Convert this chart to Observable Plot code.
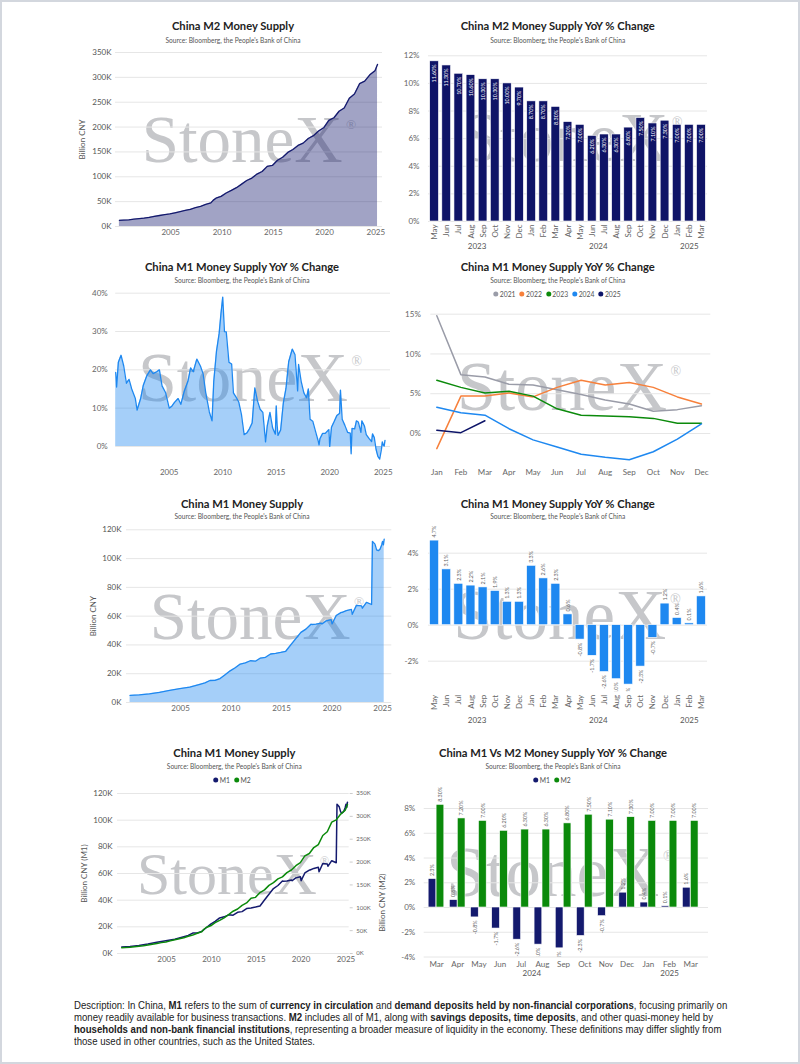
<!DOCTYPE html>
<html>
<head>
<meta charset="utf-8">
<script src="https://cdn.jsdelivr.net/npm/d3@7"></script>
<script src="https://cdn.jsdelivr.net/npm/@observablehq/plot@0.6"></script>
<style>
  body { margin: 0; background: #fff; }
  #page { position: relative; width: 800px; height: 1064px; box-sizing: border-box; border: 2px solid #d3d7de; overflow: hidden; font-family: Lato, "Open Sans", sans-serif; background: #fff; }
  .abs { position: absolute; }
  .t { font-family: Lato, "Open Sans", sans-serif; font-size: 11.2px; font-weight: 700; color: #222; white-space: nowrap; transform: translate(-50%, -50%); line-height: 1; }
  .s { font-size: 6.6px; color: #555; white-space: nowrap; transform: translate(-50%, -50%); line-height: 1; }
  .lg { font-size: 6.8px; color: #555; white-space: nowrap; transform: translate(-50%, -50%); line-height: 1; display: flex; align-items: center; gap: 4px; }
  .lg .it { display: flex; align-items: center; gap: 1.5px; }
  .lg .dot { width: 5px; height: 5px; border-radius: 50%; display: inline-block; }
  .wm { font-family: "Liberation Serif", "DejaVu Serif", serif; color: #c6c7ca; white-space: nowrap; transform: translate(-50%, -50%); line-height: 1; }
  .wm .r { font-size: 0.2em; position: relative; top: -2.45em; margin-left: 0.25em; }
  #desc { left: 72px; top: 998px; font-family: "Liberation Sans", Arial, sans-serif; font-size: 10.4px; line-height: 12px; color: #222; white-space: nowrap; transform: scaleX(0.925); transform-origin: 0 0; }
  #desc b { font-weight: 700; }
</style>
</head>
<body>
<div id="page">
  <div id="desc" class="abs">Description: In China, <b>M1</b> refers to the sum of <b>currency in circulation</b> and <b>demand deposits held by non-financial corporations</b>, focusing primarily on<br>money readily available for business transactions. <b>M2</b> includes all of M1, along with <b>savings deposits, time deposits</b>, and other quasi-money held by<br><b>households and non-bank financial institutions</b>, representing a broader measure of liquidity in the economy. These definitions may differ slightly from<br>those used in other countries, such as the United States.</div>
</div>
<script>
// ---------------- DATA ----------------
const yearTicks = [2005, 2010, 2015, 2020, 2025];
const monthNames = ["Jan","Feb","Mar","Apr","May","Jun","Jul","Aug","Sep","Oct","Nov","Dec"];

// China M2 money supply, billion CNY
const m2Dates = ["2000-01","2000-06","2000-12","2001-06","2001-12","2002-06","2002-12","2003-06","2003-12","2004-06","2004-12","2005-06","2005-12","2006-06","2006-12","2007-06","2007-12","2008-06","2008-12","2009-03","2009-06","2009-12","2010-06","2010-12","2011-06","2011-12","2012-06","2012-12","2013-06","2013-12","2014-06","2014-12","2015-06","2015-12","2016-06","2016-12","2017-06","2017-12","2018-06","2018-12","2019-06","2019-12","2020-06","2020-12","2021-06","2021-12","2022-06","2022-12","2023-06","2023-12","2024-06","2024-12","2025-03"];
const m2Values = [12500,12900,13500,14700,15800,16900,18500,20400,22100,23800,25300,27600,29900,32300,34600,37800,40300,44300,47500,53100,56900,60600,67400,72600,78100,85200,92500,97400,105400,110700,121000,122800,133300,139200,149000,155000,163100,167700,177000,182700,192100,198600,213500,218700,231800,238300,258100,266400,287300,292300,305000,313500,326100];

// China M1 money supply, billion CNY
const m1Dates = ["2000-01","2000-12","2001-12","2002-12","2003-12","2004-12","2005-12","2006-12","2007-06","2007-12","2008-06","2008-12","2009-06","2009-12","2010-06","2010-12","2011-06","2011-12","2012-06","2012-12","2013-06","2013-12","2014-06","2014-12","2015-06","2015-12","2016-06","2016-12","2017-06","2017-12","2018-01","2018-06","2018-12","2019-01","2019-06","2019-12","2020-01","2020-06","2020-12","2021-01","2021-06","2021-12","2022-01","2022-06","2022-12","2023-01","2023-06","2023-12","2024-01","2024-04","2024-06","2024-08","2024-10","2024-12","2025-01","2025-02","2025-03"];
const m1Values = [4900,5300,6000,7100,8400,9600,10700,12600,13600,15300,15400,16600,19300,22000,24100,26700,27500,29000,28700,30900,31400,33700,34100,34800,35600,40100,44400,48700,51000,54400,54200,54400,55200,54600,56700,57600,54600,60400,62600,62600,63800,64700,61300,67500,67200,65500,69600,68100,112000,110000,106000,105500,106500,109500,112000,109500,113500];

// China M1 YoY % change, long history
const m1YoyDates = ["2000-01","2000-02","2000-04","2000-07","2000-10","2001-01","2001-04","2001-07","2001-11","2002-01","2002-05","2002-08","2002-12","2003-04","2003-07","2003-11","2004-02","2004-05","2004-09","2005-01","2005-04","2005-07","2005-11","2006-02","2006-06","2006-10","2007-01","2007-04","2007-08","2007-12","2008-03","2008-06","2008-10","2009-01","2009-03","2009-06","2009-09","2009-11","2010-01","2010-03","2010-05","2010-08","2010-11","2011-01","2011-04","2011-07","2011-10","2012-01","2012-04","2012-07","2012-10","2013-01","2013-04","2013-07","2013-10","2014-01","2014-03","2014-06","2014-09","2014-12","2015-01","2015-02","2015-03","2015-06","2015-09","2015-12","2016-03","2016-06","2016-07","2016-10","2017-01","2017-02","2017-05","2017-08","2017-11","2018-01","2018-03","2018-06","2018-09","2018-12","2019-01","2019-02","2019-05","2019-08","2019-12","2020-01","2020-03","2020-06","2020-09","2020-12","2021-01","2021-03","2021-06","2021-09","2021-12","2022-01","2022-02","2022-05","2022-07","2022-09","2022-12","2023-01","2023-04","2023-06","2023-09","2023-12","2024-01","2024-03","2024-05","2024-07","2024-09","2024-11","2024-12","2025-01","2025-02","2025-03"];
const m1YoyValues = [19.3,15.5,22.0,23.8,21.0,16.5,17.5,15.0,12.5,9.5,12.5,16.0,18.5,20.0,19.0,19.5,20.0,15.8,14.0,10.0,10.5,11.5,12.5,11.0,14.5,17.0,20.5,19.5,22.8,21.0,19.0,14.0,9.0,6.7,17.0,24.8,29.5,34.6,39.0,30.0,29.9,22.0,21.5,14.0,12.9,11.6,8.4,3.1,3.5,4.6,6.1,15.3,11.9,9.7,8.9,1.2,5.4,8.9,4.8,3.2,10.6,5.6,2.9,4.3,11.4,15.2,22.1,24.6,25.4,24.0,14.5,21.4,17.0,14.0,12.7,15.0,7.1,6.6,4.0,1.5,0.4,2.0,3.4,3.4,4.4,0.0,5.0,6.5,8.1,8.6,14.7,7.1,5.5,3.7,3.5,-1.9,4.7,4.6,6.7,6.4,3.7,6.7,5.3,3.1,2.1,1.3,3.3,2.3,-0.8,-2.6,-3.3,-0.7,1.2,0.4,0.1,1.6];

// Monthly bars, May 2023 - Mar 2025
const barPeriods = ["2023-05","2023-06","2023-07","2023-08","2023-09","2023-10","2023-11","2023-12","2024-01","2024-02","2024-03","2024-04","2024-05","2024-06","2024-07","2024-08","2024-09","2024-10","2024-11","2024-12","2025-01","2025-02","2025-03"];
const m2YoyBarValues = [11.6,11.3,10.7,10.6,10.3,10.3,10.0,9.7,8.7,8.7,8.3,7.2,7.0,6.2,6.3,6.3,6.8,7.5,7.1,7.3,7.0,7.0,7.0];
const m1YoyBarValues = [4.7,3.1,2.3,2.2,2.1,1.9,1.3,1.3,3.3,2.6,2.3,0.6,-0.8,-1.7,-2.6,-3.0,-3.3,-2.3,-0.7,1.2,0.4,0.1,1.6];

// M1 YoY by calendar year (Jan..Dec)
const lineYears = ["2021","2022","2023","2024","2025"];
const m1Yoy2021 = [14.8,7.4,7.1,6.2,6.1,5.5,4.9,4.2,3.7,2.8,3.0,3.5];
const m1Yoy2022 = [-1.9,4.7,4.7,5.1,4.6,5.8,6.7,6.1,6.4,5.8,4.6,3.7];
const m1Yoy2023 = [6.7,5.8,5.1,5.3,4.7,3.1,2.3,2.2,2.1,1.9,1.3,1.3];
const m1Yoy2024 = [3.3,2.6,2.3,0.6,-0.8,-1.7,-2.6,-3.0,-3.3,-2.3,-0.7,1.2];
const m1Yoy2025 = [0.4,0.1,1.6];

// M1 vs M2 YoY, Mar 2024 - Mar 2025
const cmpPeriods = ["2024-03","2024-04","2024-05","2024-06","2024-07","2024-08","2024-09","2024-10","2024-11","2024-12","2025-01","2025-02","2025-03"];
const cmpM1 = [2.3,0.6,-0.8,-1.7,-2.6,-3.0,-3.3,-2.3,-0.7,1.2,0.4,0.1,1.6];
const cmpM2 = [8.3,7.2,7.0,6.2,6.3,6.3,6.8,7.5,7.1,7.3,7.0,7.0,7.0];

// ---------------- HELPERS ----------------
const FONT = "Lato, 'Open Sans', sans-serif";
const NAVY = "#141a6e";
const BLUE = "#1e88f0";
const GREEN = "#0b8a0b";
const GRID = "#e6e6e6";
const page = document.getElementById("page");
const parseM = d3.utcParse("%Y-%m");
const parseD = d3.utcParse("%Y-%m-%d");
const fmtY = d3.utcFormat("%Y");
const fmtK = d => Math.round(d / 1000) + "K";
const yearDates = yearTicks.map(y => new Date(Date.UTC(y, 0, 1)));
const style = {background: "transparent", fontFamily: FONT, fontSize: "8px", color: "#666", overflow: "visible"};
const gridOpt = {stroke: GRID, strokeOpacity: 1, strokeWidth: 1};

function div(cls, html, x, y) {
  const d = document.createElement("div");
  d.className = "abs " + cls;
  d.style.left = x + "px";
  d.style.top = y + "px";
  d.innerHTML = html;
  page.appendChild(d);
  return d;
}
function header(title, x, yT, yS) {
  div("t", title, x, yT);
  div("s", "Source: Bloomberg, the People's Bank of China", x, yS);
}
function legend(items, x, y) {
  div("lg", items.map(([c, t]) => `<span class="it"><span class="dot" style="background:${c}"></span>${t}</span>`).join(""), x, y);
}
function watermark(x, y, size) {
  const d = div("wm", 'StoneX<span class="r">®</span>', x, y);
  d.style.fontSize = size + "px";
}
function place(svg, left, top) {
  svg.style.position = "absolute";
  svg.style.left = left + "px";
  svg.style.top = top + "px";
  page.appendChild(svg);
}
function series(dates, values) {
  return dates.map((d, i) => ({date: parseM(d), value: values[i]}));
}
function groupsOf(periods) {
  return d3.groups(periods.map((p, i) => ({i, y: p.slice(0, 4)})), d => d.y)
    .map(([y, arr]) => ({year: y, mid: (arr[0].i + arr[arr.length - 1].i) / 2}));
}
const monthOf = p => monthNames[+p.slice(5, 7) - 1];

const m2 = series(m2Dates, m2Values);
const m1 = series(m1Dates, m1Values);
const m1yoy = series(m1YoyDates, m1YoyValues);

// ---------------- WATERMARKS (behind charts) ----------------
watermark(247, 137, 67);
watermark(570, 136, 69);
watermark(248, 375.5, 70);
watermark(567, 385, 70);
watermark(255, 614, 67);
watermark(565, 613, 71);
watermark(231, 872, 60);
watermark(558, 870, 71);

// ---------------- PANEL 1: M2 supply ----------------
header("China M2 Money Supply", 231, 24, 37.7);
const k350 = d3.range(0, 350001, 50000);
place(Plot.plot({
  width: 340, height: 196, marginLeft: 53, marginRight: 20, marginTop: 6, marginBottom: 16,
  style,
  x: {type: "utc", domain: [parseD("1999-08-15"), parseD("2025-08-25")]},
  y: {domain: [0, 350000]},
  marks: [
    Plot.gridY(k350, gridOpt),
    Plot.areaY(m2, {x: "date", y: "value", fill: NAVY, fillOpacity: 0.4}),
    Plot.lineY(m2, {x: "date", y: "value", stroke: NAVY, strokeWidth: 1.3}),
    Plot.axisY(k350, {tickSize: 0, tickPadding: 4, tickFormat: fmtK, label: "Billion CNY", labelAnchor: "center", labelArrow: "none", labelOffset: 36, fill: "#555"}),
    Plot.axisX(yearDates, {tickSize: 0, tickPadding: 3, tickFormat: fmtY, label: null})
  ]
}), 60, 44);

// ---------------- PANEL 2: M2 YoY bars ----------------
header("China M2 Money Supply YoY % Change", 555.7, 24, 37.7);
const p2 = m2YoyBarValues.map((v, i) => ({i, v}));
place(Plot.plot({
  width: 310, height: 207, marginLeft: 26, marginRight: 5, marginTop: 8.3, marginBottom: 33,
  style,
  x: {type: "linear", domain: [-0.5, 22.5]},
  y: {domain: [0, 12]},
  marks: [
    Plot.gridY(d3.range(0, 13, 2), gridOpt),
    Plot.rectY(p2, {x1: d => d.i - 0.36, x2: d => d.i + 0.36, y: "v", fill: "#0f1467", stroke: "#fff", strokeWidth: 0.6}),
    Plot.text(p2, {x: "i", y: "v", text: d => d.v.toFixed(2) + "%", rotate: -90, textAnchor: "end", dy: 3, fill: "#fff", fontSize: 5.4}),
    Plot.axisY(d3.range(0, 13, 2), {tickSize: 0, tickPadding: 9, tickFormat: d => d + "%", label: null}),
    Plot.axisX(d3.range(barPeriods.length), {tickSize: 0, tickPadding: 3, tickRotate: -90, tickFormat: i => monthOf(barPeriods[i]), label: null}),
    Plot.text(groupsOf(barPeriods), {x: "mid", text: "year", frameAnchor: "bottom", dy: 27, fontSize: 8, fill: "#555"})
  ]
}), 400, 45);

// ---------------- PANEL 3: M1 YoY history ----------------
header("China M1 Money Supply YoY % Change", 240, 265, 278.3);
place(Plot.plot({
  width: 340, height: 196, marginLeft: 53.2, marginRight: 12, marginTop: 6.7, marginBottom: 18.8,
  style,
  x: {type: "utc", domain: [parseD("2000-01-01"), parseD("2025-09-05")]},
  y: {domain: [-4.5, 40]},
  marks: [
    Plot.gridY([0, 10, 20, 30, 40], gridOpt),
    Plot.areaY(m1yoy, {x: "date", y: "value", fill: BLUE, fillOpacity: 0.4}),
    Plot.lineY(m1yoy, {x: "date", y: "value", stroke: BLUE, strokeWidth: 1.3}),
    Plot.axisY([0, 10, 20, 30, 40], {tickSize: 0, tickPadding: 8, tickFormat: d => d + "%", label: null}),
    Plot.axisX(yearDates, {tickSize: 0, tickPadding: 6, tickFormat: fmtY, label: null})
  ]
}), 60, 284);

// ---------------- PANEL 4: M1 YoY by year ----------------
header("China M1 Money Supply YoY % Change", 555.7, 265, 278.3);
const yearColors = {"2021": "#9a9ca8", "2022": "#f7803b", "2023": "#0b8a0b", "2024": "#1e88f0", "2025": "#0d1468"};
const yearSeries = {"2021": m1Yoy2021, "2022": m1Yoy2022, "2023": m1Yoy2023, "2024": m1Yoy2024, "2025": m1Yoy2025};
legend(lineYears.map(y => [yearColors[y], y]), 555, 292.3);
place(Plot.plot({
  width: 310, height: 180, marginLeft: 28.3, marginRight: 1.7, marginTop: 6.7, marginBottom: 22.2,
  style,
  x: {type: "linear", domain: [-0.25, 11.39]},
  y: {domain: [-4, 15]},
  marks: [
    Plot.gridY([0, 5, 10, 15], gridOpt),
    ...lineYears.map(y => Plot.lineY(yearSeries[y].map((v, i) => ({i, v})), {x: "i", y: "v", stroke: yearColors[y], strokeWidth: 1.5})),
    Plot.axisY([0, 5, 10, 15], {tickSize: 0, tickPadding: 10, tickFormat: d => d + "%", label: null}),
    Plot.axisX(d3.range(12), {tickSize: 0, tickPadding: 4, tickFormat: i => monthNames[i], label: null})
  ]
}), 400, 305);

// ---------------- PANEL 5: M1 supply ----------------
header("China M1 Money Supply", 240, 501.7, 514.3);
const k120 = d3.range(0, 120001, 20000);
place(Plot.plot({
  width: 340, height: 196, marginLeft: 64, marginRight: 10.7, marginTop: 7.3, marginBottom: 16,
  style,
  x: {type: "utc", domain: [parseD("1999-08-25"), parseD("2025-12-01")]},
  y: {domain: [0, 120000]},
  marks: [
    Plot.gridY(k120, gridOpt),
    Plot.areaY(m1, {x: "date", y: "value", fill: BLUE, fillOpacity: 0.4}),
    Plot.lineY(m1, {x: "date", y: "value", stroke: BLUE, strokeWidth: 1.3}),
    Plot.axisY(k120, {tickSize: 0, tickPadding: 5, tickFormat: fmtK, label: "Billion CNY", labelAnchor: "center", labelArrow: "none", labelOffset: 36, fill: "#555"}),
    Plot.axisX(yearDates, {tickSize: 0, tickPadding: 3, tickFormat: fmtY, label: null})
  ]
}), 60, 520);

// ---------------- PANEL 6: M1 YoY bars ----------------
header("China M1 Money Supply YoY % Change", 555.7, 501.7, 514.3);
const p6 = m1YoyBarValues.map((v, i) => ({i, v}));
place(Plot.plot({
  width: 310, height: 213, marginLeft: 26, marginRight: 5, marginTop: 6.9, marginBottom: 38.7,
  style,
  x: {type: "linear", domain: [-0.5, 22.5]},
  y: {domain: [-3.7, 5.6]},
  marks: [
    Plot.gridY([-2, 0, 2, 4], gridOpt),
    Plot.rectY(p6, {x1: d => d.i - 0.37, x2: d => d.i + 0.37, y: "v", fill: BLUE, stroke: "#fff", strokeWidth: 0.6}),
    Plot.text(p6.filter(d => d.v >= 0), {x: "i", y: "v", text: d => d.v.toFixed(1) + "%", rotate: -90, textAnchor: "start", dy: -3, fill: "#666", fontSize: 5.4, clip: true}),
    Plot.text(p6.filter(d => d.v < 0), {x: "i", y: "v", text: d => d.v.toFixed(1) + "%", rotate: -90, textAnchor: "end", dy: 3, fill: "#666", fontSize: 5.4, clip: true}),
    Plot.axisY([-2, 0, 2, 4], {tickSize: 0, tickPadding: 10, tickFormat: d => d + "%", label: null}),
    Plot.axisX(d3.range(barPeriods.length), {tickSize: 0, tickPadding: 3, tickRotate: -90, tickFormat: i => monthOf(barPeriods[i]), label: null}),
    Plot.text(groupsOf(barPeriods), {x: "mid", text: "year", frameAnchor: "bottom", dy: 31.4, fontSize: 8, fill: "#555"})
  ]
}), 400, 515);

// ---------------- PANEL 7: M1 and M2 supply (dual axis) ----------------
header("China M1 Money Supply", 232.3, 750.7, 764);
legend([[NAVY, "M1"], [GREEN, "M2"]], 230, 777.7);
const ratio = 120000 / 350000;
const m2scaled = m2.map(d => ({date: d.date, value: d.value * ratio}));
place(Plot.plot({
  width: 340, height: 180, marginLeft: 55, marginRight: 53.3, marginTop: 6, marginBottom: 14,
  style,
  x: {type: "utc", domain: [parseD("1999-07-12"), parseD("2025-05-12")]},
  y: {domain: [0, 120000]},
  marks: [
    Plot.gridY(k120, gridOpt),
    Plot.lineY(m1, {x: "date", y: "value", stroke: NAVY, strokeWidth: 1.5}),
    Plot.lineY(m2scaled, {x: "date", y: "value", stroke: GREEN, strokeWidth: 1.5}),
    Plot.axisY(k120, {tickSize: 0, tickPadding: 5, tickFormat: fmtK, label: "Billion CNY (M1)", labelAnchor: "center", labelArrow: "none", labelOffset: 36, fill: "#555"}),
    Plot.axisY(k350.map(v => v * ratio), {anchor: "right", tickSize: 3, tickPadding: 4, stroke: "#ccc", fontSize: 6, tickFormat: d => fmtK(d / ratio), label: null, fill: "#666"}),
    Plot.text(["Billion CNY (M2)"], {frameAnchor: "right", rotate: -90, dx: 33, fontSize: 8, fill: "#555"}),
    Plot.axisX(yearDates, {tickSize: 0, tickPadding: 3, tickFormat: fmtY, label: null})
  ]
}), 60, 785);

// ---------------- PANEL 8: M1 vs M2 YoY bars ----------------
header("China M1 Vs M2 Money Supply YoY % Change", 551, 750.7, 764);
legend([[NAVY, "M1"], [GREEN, "M2"]], 550, 777.7);
const p8a = cmpM1.map((v, i) => ({i, v}));
const p8b = cmpM2.map((v, i) => ({i, v}));
const ticks8 = [-4, -2, 0, 2, 4, 6, 8];
place(Plot.plot({
  width: 310, height: 200, marginLeft: 21.7, marginRight: 4, marginTop: 5, marginBottom: 25.5,
  style,
  x: {type: "linear", domain: [-0.58, 12.84]},
  y: {domain: [-4, 9.7]},
  marks: [
    Plot.gridY(ticks8, gridOpt),
    Plot.rectY(p8a, {x1: d => d.i - 0.37, x2: d => d.i - 0.005, y: "v", fill: NAVY, stroke: "#fff", strokeWidth: 0.6}),
    Plot.rectY(p8b, {x1: d => d.i + 0.005, x2: d => d.i + 0.37, y: "v", fill: GREEN, stroke: "#fff", strokeWidth: 0.6}),
    Plot.text(p8a.filter(d => d.v >= 0), {x: d => d.i - 0.19, y: "v", text: d => d.v.toFixed(1) + "%", rotate: -90, textAnchor: "start", dy: -3, fill: "#666", fontSize: 5.4, clip: true}),
    Plot.text(p8a.filter(d => d.v < 0), {x: d => d.i - 0.19, y: "v", text: d => d.v.toFixed(1) + "%", rotate: -90, textAnchor: "end", dy: 3, fill: "#666", fontSize: 5.4, clip: true}),
    Plot.text(p8b, {x: d => d.i + 0.19, y: "v", text: d => d.v.toFixed(2) + "%", rotate: -90, textAnchor: "start", dy: -3, fill: "#666", fontSize: 5.4, clip: true}),
    Plot.axisY(ticks8, {tickSize: 0, tickPadding: 9, tickFormat: d => d + "%", label: null}),
    Plot.axisX(d3.range(cmpPeriods.length), {tickSize: 0, tickPadding: 4, tickFormat: i => monthOf(cmpPeriods[i]), label: null}),
    Plot.text(groupsOf(cmpPeriods), {x: "mid", text: "year", frameAnchor: "bottom", dy: 19, fontSize: 8, fill: "#555"})
  ]
}), 400, 780);
</script>
</body>
</html>
